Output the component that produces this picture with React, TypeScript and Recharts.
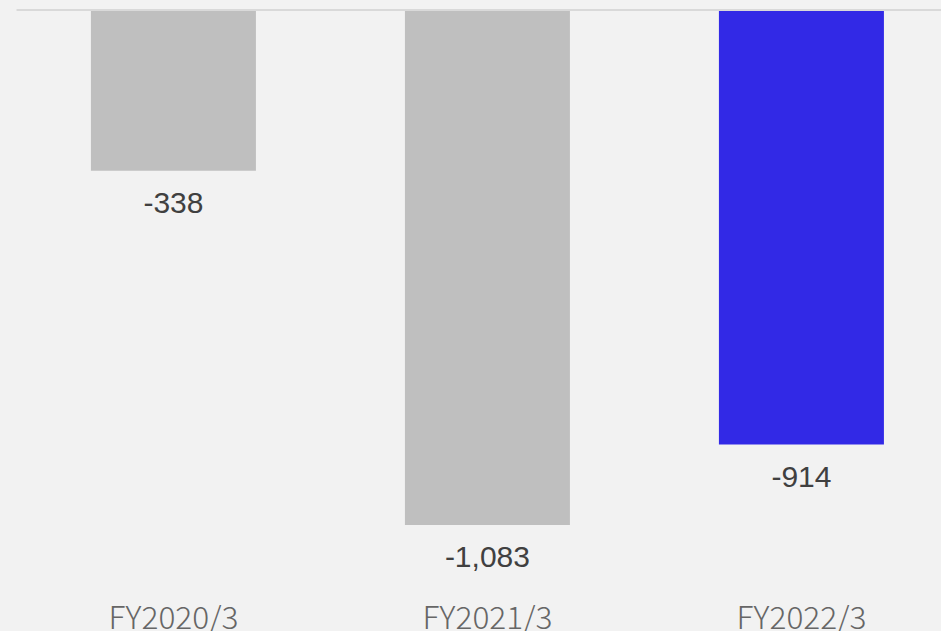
import React from "react";
import { BarChart, Bar, XAxis, YAxis, Cell, LabelList, ReferenceLine } from "recharts";

const categories = ["FY2020/3", "FY2021/3", "FY2022/3"];
const values = [-338, -1083, -914];
const barColors = ["#bfbfbf", "#bfbfbf", "#3229e6"];
const yDomain = [-1200, 0];

const data = categories.map((c, i) => ({ name: c, value: values[i] }));

const fmt = (v: number) => v.toLocaleString("en-US");

const ValueLabel = (props: any) => {
  const { x, y, width, height, value } = props;
  const bottom = Math.max(Number(y), Number(y) + Number(height));
  return (
    <text
      x={Number(x) + Number(width) / 2}
      y={bottom + 42.5}
      textAnchor="middle"
      fill="#404040"
      fontSize={30}
      fontFamily="'Liberation Sans', Arial, sans-serif"
    >
      {fmt(Number(value))}
    </text>
  );
};

const CategoryTick = (props: any) => {
  const { x, y, payload } = props;
  return (
    <text
      x={x}
      y={Number(y) + 48}
      textAnchor="middle"
      fill="#666666"
      fontSize={31}
      fontWeight={300}
      fontFamily="'Noto Sans CJK JP', 'Noto Sans', sans-serif"
      textLength={130}
      lengthAdjust="spacingAndGlyphs"
    >
      {payload.value}
    </text>
  );
};

export default function App() {
  return (
    <div
      style={{
        position: "absolute",
        left: 0,
        top: 0,
        width: 941,
        height: 631,
        overflow: "hidden",
        background: "#f2f2f2",
      }}
    >
      <BarChart
        width={959}
        height={631}
        data={data}
        margin={{ top: 10, right: 0.5, left: 16.5, bottom: 0 }}
        barCategoryGap="23.7%"
      >
        <XAxis
          dataKey="name"
          axisLine={false}
          tickLine={false}
          tickSize={0}
          tickMargin={0}
          height={50.4}
          interval={0}
          tick={<CategoryTick />}
        />
        <YAxis hide domain={yDomain} />
        <ReferenceLine y={0} stroke="#d9d9d9" strokeWidth={2} />
        <Bar dataKey="value" isAnimationActive={false}>
          {data.map((d, i) => (
            <Cell key={d.name} fill={barColors[i]} />
          ))}
          <LabelList dataKey="value" content={<ValueLabel />} />
        </Bar>
      </BarChart>
    </div>
  );
}
